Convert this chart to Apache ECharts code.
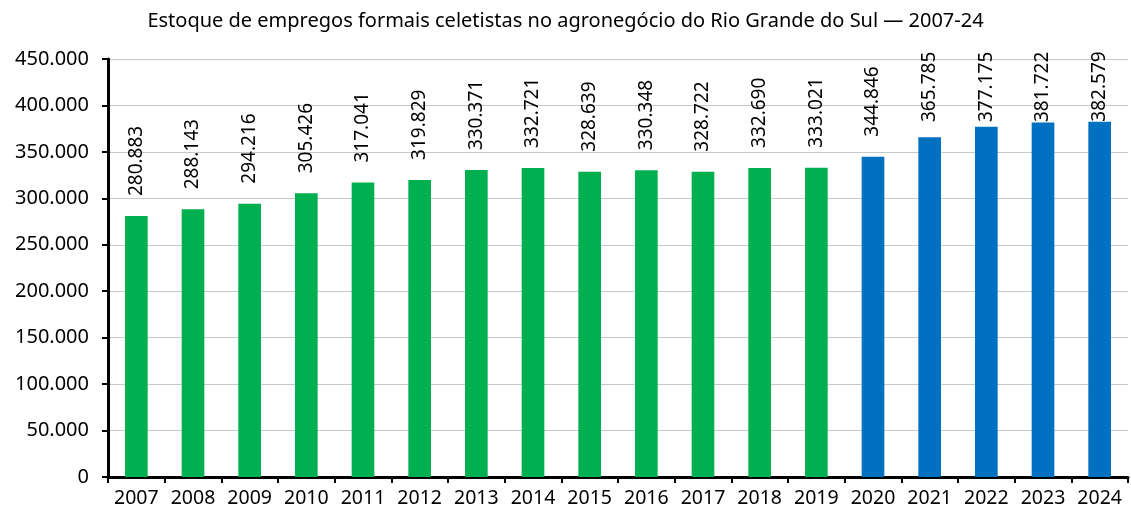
<!DOCTYPE html>
<html>
<head>
<meta charset="utf-8">
<script src="https://cdn.jsdelivr.net/npm/echarts@6/dist/echarts.min.js"></script>
<style>
  html, body { margin: 0; padding: 0; background: #fff; }
  #chart { width: 1131px; height: 510px; }
</style>
</head>
<body>
<div id="chart"></div>
<script>
// dados
var anos = ['2007','2008','2009','2010','2011','2012','2013','2014','2015','2016','2017','2018','2019','2020','2021','2022','2023','2024'];
var estoque = [280883, 288143, 294216, 305426, 317041, 319829, 330371, 332721, 328639, 330348, 328722, 332690, 333021, 344846, 365785, 377175, 381722, 382579];
var anoCorte = 2020; // a partir daqui, barras azuis
var corVerde = '#00b050';
var corAzul = '#0070c0';

function fmt(v) {
    return String(v).replace(/\B(?=(\d{3})+(?!\d))/g, '.');
}

var fonte = 'Noto Sans';
var myChart = echarts.init(document.getElementById('chart'));

function montarDados(distancias) {
    return estoque.map(function (v, i) {
        return {
            value: v,
            itemStyle: { color: Number(anos[i]) >= anoCorte ? corAzul : corVerde },
            label: { distance: distancias ? distancias[i] : 20 }
        };
    });
}

var option = {
    backgroundColor: '#fff',
    animation: false,
    title: {
        text: 'Estoque de empregos formais celetistas no agronegócio do Rio Grande do Sul — 2007-24',
        left: 'center',
        top: 6,
        textStyle: { fontFamily: fonte, fontSize: 20, fontWeight: 'normal', color: '#000' }
    },
    grid: { left: 108, right: 3, top: 59, bottom: 33 },
    xAxis: {
        type: 'category',
        data: anos,
        axisLine: { lineStyle: { color: '#000', width: 3 } },
        axisTick: { show: true, alignWithLabel: false, length: 6, lineStyle: { color: '#000', width: 2 } },
        axisLabel: { fontFamily: fonte, fontSize: 19.5, color: '#000', margin: 11, interval: 0 }
    },
    yAxis: {
        type: 'value',
        min: 0,
        max: 450000,
        interval: 50000,
        axisLine: { show: true, lineStyle: { color: '#000', width: 3 } },
        axisTick: { show: true, length: 6, lineStyle: { color: '#000', width: 2 } },
        splitLine: { lineStyle: { color: '#c8c8c8', width: 1 } },
        axisLabel: {
            fontFamily: fonte, fontSize: 20, color: '#000', margin: 19,
            formatter: function (v) { return fmt(v); }
        }
    },
    series: [{
        type: 'bar',
        barWidth: '40%',
        data: montarDados(null),
        label: {
            show: true,
            position: 'top',
            rotate: 90,
            align: 'left',
            verticalAlign: 'middle',
            distance: 20,
            fontFamily: fonte,
            fontSize: 19,
            color: '#000',
            formatter: function (p) { return fmt(p.value); }
        }
    }]
};

myChart.setOption(option);

// rótulos das barras mais altas ficam dentro da área do gráfico (como no original)
var limite = 122;
var distancias = estoque.map(function (v) {
    var topo = myChart.convertToPixel({ yAxisIndex: 0 }, v);
    return Math.max(0, Math.min(20, topo - limite));
});
myChart.setOption({ series: [{ data: montarDados(distancias) }] });
</script>
</body>
</html>
